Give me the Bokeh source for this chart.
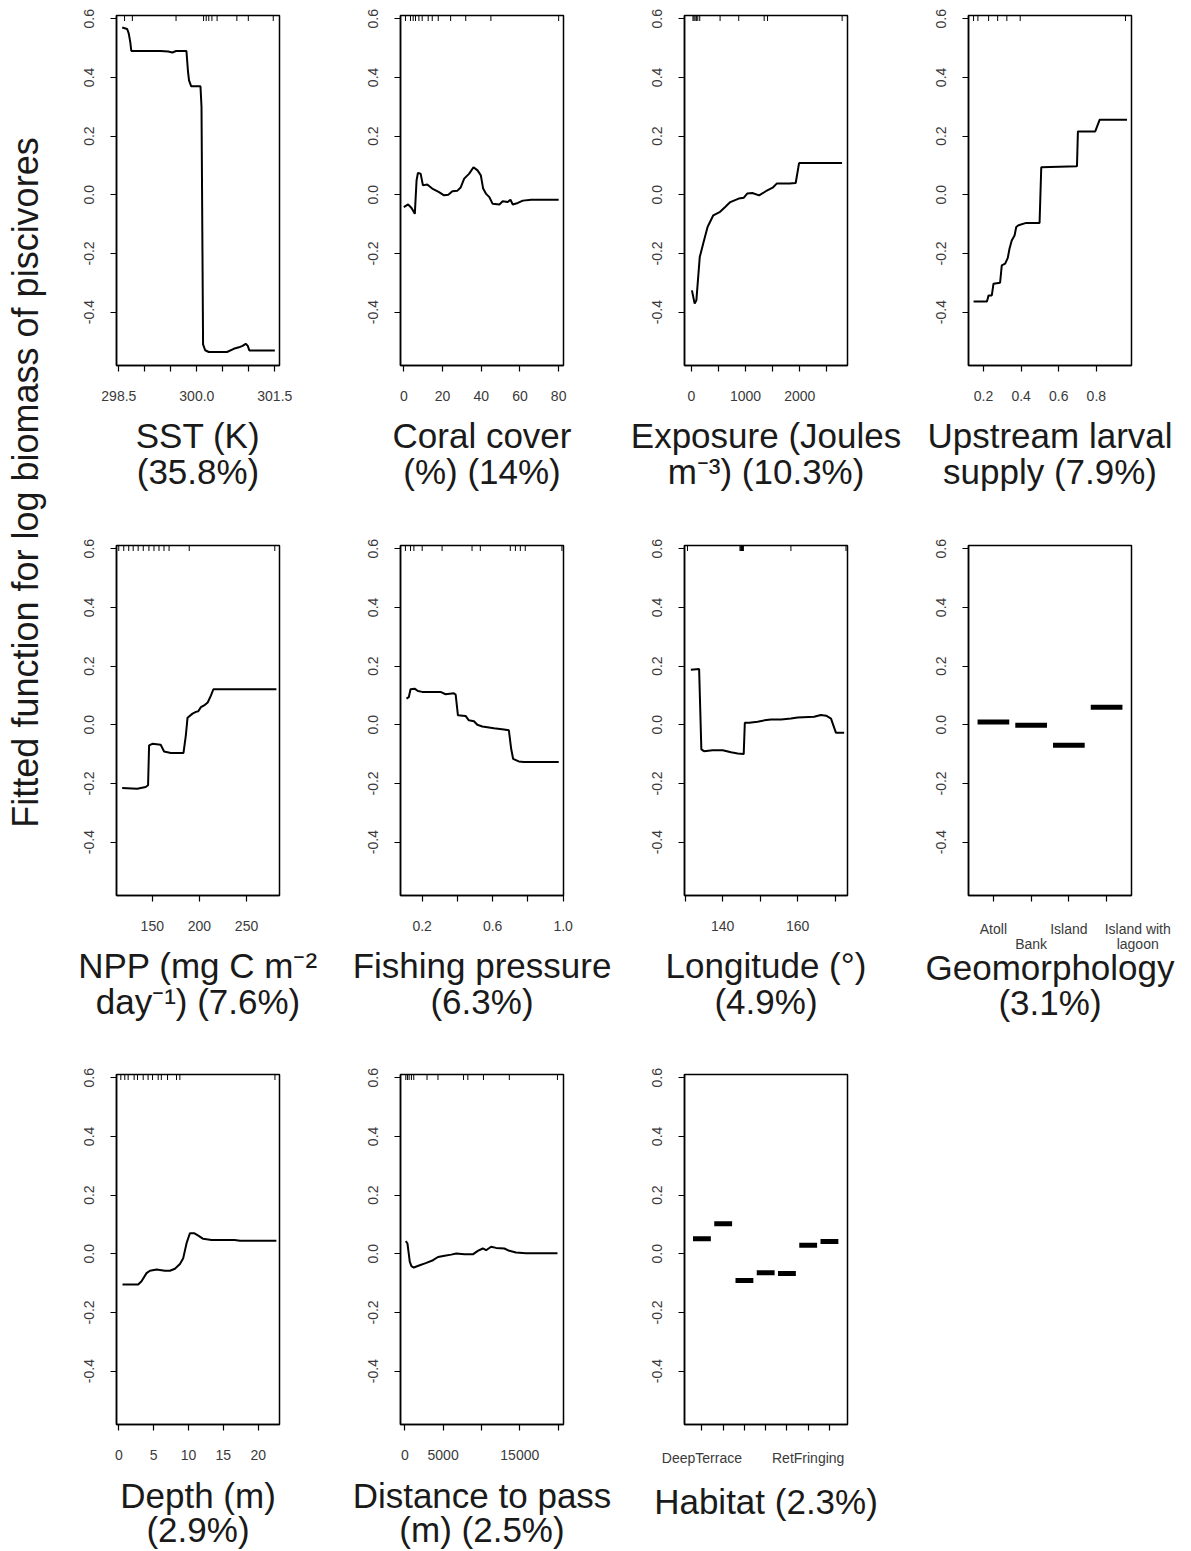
import math
from bokeh.plotting import figure
from bokeh.layouts import row, column
from bokeh.models import FixedTicker, Range1d, Title, CustomJSTickFormatter
from bokeh.core.properties import value
from bokeh.embed import file_html
from bokeh.resources import INLINE

# ---------------- data ----------------
Y_LABEL = "Fitted function for log biomass of piscivores"
Y_TICKS = [-0.4, -0.2, 0.0, 0.2, 0.4, 0.6]
Y_TICK_LABELS = ["-0.4", "-0.2", "0.0", "0.2", "0.4", "0.6"]

sst_x = [298.565, 298.66, 298.69, 298.72, 298.74, 299.3, 299.45, 299.53, 299.6, 299.80, 299.83, 299.85,
         299.89, 300.07, 300.09, 300.12, 300.16, 300.23, 300.58, 300.71, 300.81, 300.88, 300.94, 300.98,
         301.01, 301.5]
sst_y = [0.57, 0.565, 0.55, 0.52, 0.49, 0.49, 0.488, 0.485, 0.49, 0.49, 0.42, 0.39, 0.37, 0.37, 0.30,
         -0.51, -0.53, -0.536, -0.536, -0.525, -0.52, -0.515, -0.508, -0.515, -0.531, -0.531]
sst_rug = [298.61, 298.76, 299.6, 300.13, 300.18, 300.23, 300.29, 300.39, 300.77, 300.99, 301.47]
sst_ticks = [298.5, 299.0, 299.5, 300.0, 300.5, 301.0, 301.5]
sst_tick_labels = ["298.5", "", "", "300.0", "", "", "301.5"]

coral_x = [0, 2.25, 4, 5.7, 6.6, 7.3, 8.7, 9.9, 12.1, 14.7, 18.2, 20.8, 23, 25.1, 27.7, 29.4, 31.2, 33.8,
           36, 38.1, 39.8, 41, 42.4, 44.2, 45.9, 49.4, 51.1, 53.7, 55.1, 56.3, 58.9, 61.5, 65.9, 80]
coral_y = [-0.042, -0.033, -0.045, -0.065, 0.049, 0.074, 0.072, 0.032, 0.035, 0.021, 0.009, -0.002, 0.0,
           0.012, 0.014, 0.025, 0.055, 0.072, 0.094, 0.083, 0.066, 0.021, 0.004, -0.008, -0.031, -0.033,
           -0.022, -0.025, -0.017, -0.033, -0.028, -0.02, -0.017, -0.017]
coral_rug = [0.87, 3.46, 4.85, 6.06, 7.8, 9.5, 12.6, 14.7, 17.8, 24.2, 32, 45, 80]
coral_ticks = [0, 20, 40, 60, 80]
coral_tick_labels = ["0", "20", "40", "60", "80"]

expo_x = [12, 62, 94, 156, 219, 300, 406, 531, 625, 719, 875, 969, 1031, 1125, 1250, 1375, 1500, 1575,
          1812, 1925, 1987, 2780]
expo_y = [-0.326, -0.371, -0.36, -0.2125, -0.167, -0.11, -0.07, -0.058, -0.042, -0.025, -0.013, -0.01,
          0.004, 0.006, -0.002, 0.012, 0.024, 0.038, 0.038, 0.04, 0.108, 0.108]
expo_rug = [31, 50, 70, 94, 120, 156, 531, 875, 1344, 1406, 2781]
expo_ticks = [0, 500, 1000, 1500, 2000, 2500]
expo_tick_labels = ["0", "", "1000", "", "2000", ""]

larv_x = [0.147, 0.218, 0.227, 0.244, 0.253, 0.288, 0.297, 0.315, 0.329, 0.338, 0.350, 0.365, 0.374,
          0.386, 0.427, 0.498, 0.507, 0.697, 0.702, 0.794, 0.818, 0.963]
larv_y = [-0.364, -0.364, -0.343, -0.343, -0.303, -0.30, -0.241, -0.235, -0.215, -0.184, -0.156, -0.139,
          -0.110, -0.104, -0.096, -0.096, 0.094, 0.097, 0.216, 0.216, 0.256, 0.256]
larv_rug = [0.147, 0.170, 0.227, 0.275, 0.324, 0.395, 0.955]
larv_ticks = [0.2, 0.4, 0.6, 0.8]
larv_tick_labels = ["0.2", "0.4", "0.6", "0.8"]

npp_x = [118, 134, 143, 145.5, 146.6, 150, 158.9, 162.5, 169.6, 183.1, 185.6, 187.4, 192.7, 196.3, 198.8,
         201.6, 205.9, 208.8, 212.3, 214.8, 281.7]
npp_y = [-0.216, -0.218, -0.212, -0.206, -0.07, -0.065, -0.068, -0.091, -0.096, -0.096, -0.036, 0.024,
         0.038, 0.044, 0.046, 0.060, 0.068, 0.076, 0.1, 0.121, 0.121]
npp_rug = [114.4, 119.7, 125, 129.7, 135, 140.4, 146.4, 151.8, 157.1, 162.4, 167.8, 189.2, 280]
npp_ticks = [150, 200, 250]
npp_tick_labels = ["150", "200", "250"]

fish_x = [0.111, 0.124, 0.134, 0.157, 0.176, 0.2, 0.304, 0.333, 0.380, 0.39, 0.403, 0.446, 0.465, 0.494,
          0.513, 0.541, 0.607, 0.664, 0.692, 0.705, 0.716, 0.748, 0.777, 0.975]
fish_y = [0.089, 0.094, 0.121, 0.123, 0.115, 0.112, 0.112, 0.104, 0.107, 0.103, 0.032, 0.030, 0.015,
          0.012, 0.0, -0.006, -0.012, -0.016, -0.019, -0.082, -0.116, -0.125, -0.127, -0.127]
fish_rug = [0.105, 0.134, 0.153, 0.2, 0.313, 0.483, 0.530, 0.700, 0.729, 0.757, 0.785, 0.993]
fish_ticks = [0.2, 0.4, 0.6, 0.8, 1.0]
fish_tick_labels = ["0.2", "", "0.6", "", "1.0"]

lon_x = [131.5, 133.7, 134.3, 135, 137.3, 140, 142.2, 144, 145.6, 145.9, 147.1, 149.3, 151.1, 152.9,
         155.6, 158.2, 160, 164.4, 166.2, 167.6, 168.9, 170.2, 172.4]
lon_y = [0.1875, 0.19, -0.084, -0.09, -0.087, -0.087, -0.094, -0.098, -0.10, 0.007, 0.007, 0.010, 0.015,
         0.018, 0.018, 0.021, 0.025, 0.027, 0.033, 0.031, 0.021, -0.027, -0.027]
lon_rug = [130.6, 144.6, 144.8, 145.0, 145.1, 145.2, 145.3, 145.4, 145.5, 158.2, 172.9]
lon_ticks = [130, 140, 150, 160, 170]
lon_tick_labels = ["", "140", "", "160", ""]

NB = "\u00a0" * 16
geo_cats = ["Atoll", "\nBank", "Island", NB + "Island with\n" + NB + "lagoon"]
geo_vals = [0.009, -0.002, -0.07, 0.06]

depth_x = [0.53, 2.78, 3.26, 3.98, 4.46, 5.42, 6.61, 7.33, 8.05, 8.77, 9.24, 9.72, 10.2, 10.8, 11.4, 12.1,
           13.3, 16.6, 17.4, 22.6]
depth_y = [-0.105, -0.105, -0.094, -0.066, -0.058, -0.054, -0.058, -0.058, -0.051, -0.035, -0.015, 0.036,
           0.07, 0.07, 0.062, 0.051, 0.047, 0.047, 0.044, 0.044]
depth_rug = [0.29, 0.86, 1.34, 2.2, 2.68, 3.5, 4.2, 4.84, 5.65, 6.1, 6.99, 8.28, 8.76, 22.4]
depth_ticks = [0, 5, 10, 15, 20]
depth_tick_labels = ["0", "5", "10", "15", "20"]

dist_x = [130, 346, 649, 866, 1169, 1948, 2814, 3680, 4329, 5195, 6061, 6710, 7792, 8874, 9524, 10173,
          10606, 11255, 11905, 12987, 13636, 14502, 15800, 19913]
dist_y = [0.043, 0.035, -0.027, -0.042, -0.047, -0.039, -0.031, -0.022, -0.011, -0.007, -0.003, 0.001,
          -0.002, -0.002, 0.010, 0.018, 0.012, 0.024, 0.020, 0.018, 0.010, 0.004, 0.002, 0.002]
dist_rug = [130, 346, 563, 866, 1169, 2900, 4329, 7662, 8225, 10260, 13636, 19913]
dist_ticks = [0, 5000, 10000, 15000, 20000]
dist_tick_labels = ["0", "5000", "", "15000", ""]

hab_cats = ["DeepTerrace", "", "", "", "", "RetFringing", ""]
hab_vals = [0.051, 0.102, -0.091, -0.065, -0.067, 0.029, 0.042]

# ---------------- layout constants ----------------
FONT = "Liberation Sans"
TITLE_SIZE = "35px"
TICK_SIZE = "14px"
YR = (-0.582, 0.611)
COL_W = [284, 284, 284, 283]
LEFT_B = 60
FRAME_H = 350
FRAME_W = 163


def tick_formatter(ticks, labels):
    return CustomJSTickFormatter(args=dict(t=list(ticks), l=list(labels)), code="""
        let best = 0, d = Infinity;
        for (let i = 0; i < t.length; i++) {
            const dd = Math.abs(t[i] - tick);
            if (dd < d) { d = dd; best = i; }
        }
        return l[best];
    """)


def make_panel(col, height, xr, xticks, xlabels, titles, x=None, y=None, rug=None, cat_vals=None,
               spacer=6, top_b=15, label_line_height=1.2, s1=-5, s2=-5.5):
    w = COL_W[col]
    p = figure(width=w, height=height, x_range=Range1d(*xr), y_range=Range1d(*YR),
               toolbar_location=None, output_backend="svg", title=None,
               min_border_left=LEFT_B, min_border_right=w - LEFT_B - FRAME_W,
               min_border_top=top_b, min_border_bottom=height - top_b - FRAME_H)
    p.grid.visible = False
    p.outline_line_color = "black"
    p.outline_line_width = 1.5
    p.background_fill_color = "white"
    p.border_fill_color = "white"
    for ax, ticks, labels in ((p.xaxis[0], xticks, xlabels), (p.yaxis[0], Y_TICKS, Y_TICK_LABELS)):
        ax.ticker = FixedTicker(ticks=list(ticks))
        ax.formatter = tick_formatter(ticks, labels)
        ax.major_tick_in = 0
        ax.major_tick_out = 6
        ax.minor_tick_line_color = None
        ax.axis_line_color = "black"
        ax.axis_line_width = 1.5
        ax.major_tick_line_width = 1.2
        ax.major_label_text_font = FONT
        ax.major_label_text_font_size = TICK_SIZE
        ax.major_label_text_color = "#3a3a3a"
    p.xaxis[0].major_label_standoff = 19
    p.xaxis[0].major_label_text_line_height = label_line_height
    p.yaxis[0].major_label_standoff = 16
    p.yaxis[0].major_label_orientation = "vertical"
    if x is not None:
        p.line(x, y, line_color="black", line_width=2)
    if rug is not None:
        p.scatter(rug, [YR[1]] * len(rug), marker="dash", angle=math.pi / 2, size=11,
                  line_color="black", line_width=1)
    if cat_vals is not None:
        pos = list(range(1, len(cat_vals) + 1))
        p.segment(x0=[q - 0.42 for q in pos], x1=[q + 0.42 for q in pos], y0=cat_vals, y1=cat_vals,
                  line_color="black", line_width=5)
    if spacer is not None:
        p.add_layout(Title(text="\u00a0", align="center", text_font=FONT, text_font_size="4px",
                           standoff=spacer), "below")
    for i, t in enumerate(titles):
        p.add_layout(Title(text=t, align="center", text_font=FONT, text_font_size=TITLE_SIZE,
                           text_font_style="normal", text_color="#1a1a1a",
                           standoff=(s1 if i == 0 else s2)), "below")
    return p


H1, H2, H3 = 530, 530, 491

panels_r1 = [
    make_panel(0, H1, (298.455, 301.59), sst_ticks, sst_tick_labels, ["SST (K)", "(35.8%)"], sst_x, sst_y, sst_rug),
    make_panel(1, H1, (-1.7, 82.5), coral_ticks, coral_tick_labels, ["Coral cover", "(%) (14%)"], coral_x, coral_y, coral_rug),
    make_panel(2, H1, (-125, 2880), expo_ticks, expo_tick_labels, ["Exposure (Joules", "m\u207b\u00b3) (10.3%)"], expo_x, expo_y, expo_rug),
    make_panel(3, H1, (0.12, 0.987), larv_ticks, larv_tick_labels, ["Upstream larval", "supply (7.9%)"], larv_x, larv_y, larv_rug),
]
panels_r2 = [
    make_panel(0, H2, (112, 285), npp_ticks, npp_tick_labels, ["NPP (mg C m\u207b\u00b2", "day\u207b\u00b9) (7.6%)"], npp_x, npp_y, npp_rug),
    make_panel(1, H2, (0.077, 1.002), fish_ticks, fish_tick_labels, ["Fishing pressure", "(6.3%)"], fish_x, fish_y, fish_rug),
    make_panel(2, H2, (129.8, 173.3), lon_ticks, lon_tick_labels, ["Longitude (\u00b0)", "(4.9%)"], lon_x, lon_y, lon_rug),
    make_panel(3, H2, (0.34, 4.66), [1, 2, 3, 4], geo_cats, ["Geomorphology", "(3.1%)"], cat_vals=geo_vals,
               spacer=None, label_line_height=0.95, s1=-18, s2=6),
]
panels_r3 = [
    make_panel(0, H3, (-0.33, 23.05), depth_ticks, depth_tick_labels, ["Depth (m)", "(2.9%)"], depth_x, depth_y, depth_rug,
               top_b=14, spacer=6.5, s1=-6, s2=-7),
    make_panel(1, H3, (-560, 20700), dist_ticks, dist_tick_labels, ["Distance to pass", "(m) (2.5%)"], dist_x, dist_y, dist_rug,
               top_b=14, spacer=6.5, s1=-6, s2=-7),
    make_panel(2, H3, (0.18, 7.85), list(range(1, 8)), hab_cats, ["Habitat (2.3%)"], cat_vals=hab_vals,
               top_b=14, spacer=6.5, s1=-6),
]

TOTAL_H = H1 + H2 + H3
LAB_W = 56
lab = figure(width=LAB_W, height=TOTAL_H, x_range=Range1d(0, LAB_W), y_range=Range1d(0, TOTAL_H),
             toolbar_location=None, output_backend="svg", title=None, x_axis_type=None, y_axis_type=None,
             min_border=0)
lab.grid.visible = False
lab.outline_line_color = None
lab.text(x=[25], y=[TOTAL_H - 482], text=[Y_LABEL], angle=math.pi / 2, text_align="center",
         text_baseline="middle", text_font=value(FONT), text_font_size="36px", text_color="#1a1a1a")

layout = row(lab, column(row(*panels_r1), row(*panels_r2), row(*panels_r3)))

open("out.html", "w").write(file_html(layout, INLINE))
